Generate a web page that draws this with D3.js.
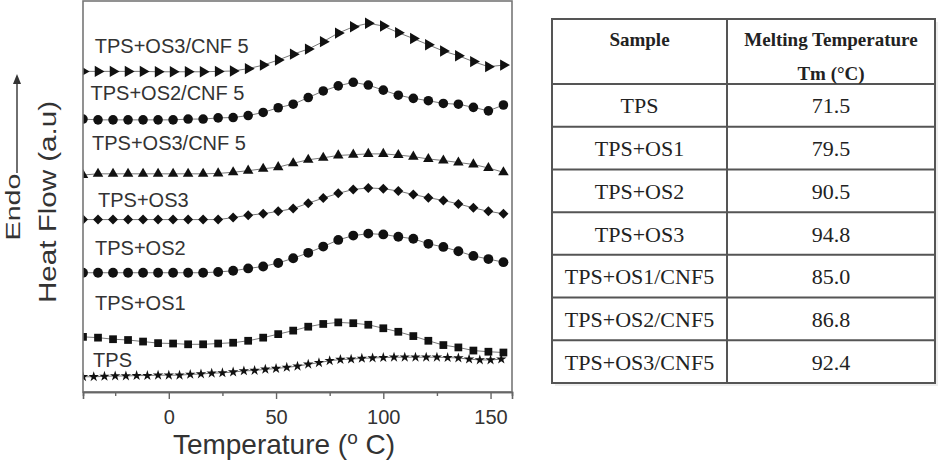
<!DOCTYPE html>
<html>
<head>
<meta charset="utf-8">
<script src="https://cdn.jsdelivr.net/npm/d3@7"></script>
<style>
  body { margin: 0; background: #fff; }
  svg { display: block; }
</style>
</head>
<body>
<svg id="chart" width="946" height="460"></svg>
<script>
const temps = [-40, -33, -26, -19, -12, -5, 2, 9, 16, 23, 30, 37, 44, 51, 58, 65, 72, 79, 86, 93, 100, 107, 114, 121, 128, 135, 142, 149, 156];
const tempsTPS = [-40, -35, -30, -25, -20, -15, -10, -5, 0, 5, 10, 15, 20, 25, 30, 35, 40, 45, 50, 55, 60, 65, 70, 75, 80, 85, 90, 95, 100, 105, 110, 115, 120, 125, 130, 135, 140, 145, 150, 155];

const hfTPS = [3.9, 3.9, 4.0, 4.1, 4.1, 4.2, 4.2, 4.3, 4.3, 4.3, 4.5, 4.6, 4.8, 4.9, 5.1, 5.4, 5.5, 5.8, 6.0, 6.3,
  6.6, 7.1, 7.5, 8.0, 8.3, 8.4, 8.6, 8.7, 8.8, 8.9, 8.9, 8.9, 8.9, 8.9, 8.8, 8.7, 8.4, 8.2, 8.2, 8.4];
const hfOS1 = [14.1, 13.9, 13.5, 13.3, 12.9, 12.5, 12.4, 12.2, 12.2, 12.4, 12.6, 13.1, 13.9, 14.8, 15.7,
  16.7, 17.4, 17.8, 17.6, 17.2, 16.3, 15.4, 14.3, 13.1, 12.0, 11.4, 10.6, 10.3, 10.1];
const hfOS2 = [30.5, 30.5, 30.5, 30.5, 30.5, 30.5, 30.5, 30.5, 30.5, 30.7, 31.0, 31.6, 32.1, 33.0, 34.2,
  35.6, 37.2, 38.9, 40.0, 40.5, 40.3, 39.7, 39.2, 37.9, 37.1, 36.0, 34.8, 34.0, 33.2];
const hfOS3 = [44.1, 44.1, 44.1, 44.1, 44.1, 44.1, 44.1, 44.1, 44.1, 44.1, 44.6, 45.2, 45.6, 46.2, 46.9,
  48.3, 49.6, 50.8, 51.8, 52.2, 52.0, 51.4, 50.5, 49.7, 49.0, 48.1, 47.1, 46.2, 45.6];
const hfOS1CNF5 = [55.5, 55.8, 55.8, 55.8, 55.8, 55.8, 55.8, 55.8, 55.8, 55.9, 56.2, 56.6, 57.1, 57.5, 58.5,
  59.4, 59.9, 60.5, 60.7, 60.9, 60.9, 60.6, 60.2, 59.6, 59.2, 58.7, 58.2, 57.3, 56.2];
const hfOS2CNF5 = [69.8, 69.6, 69.6, 69.6, 69.6, 69.6, 69.6, 69.8, 69.8, 70.1, 70.2, 70.7, 71.5, 72.7, 73.6,
  75.3, 77.0, 78.3, 79.2, 78.5, 77.2, 75.9, 75.1, 74.5, 73.8, 73.6, 72.8, 71.9, 73.4];
const hfOS3CNF5 = [82.0, 82.0, 82.0, 82.0, 82.0, 81.9, 81.9, 81.9, 81.9, 82.0, 82.1, 82.7, 83.6, 84.9, 86.4,
  87.7, 89.6, 91.8, 93.4, 94.3, 93.6, 91.9, 90.4, 88.8, 87.2, 86.0, 84.5, 83.2, 83.6];

const curveNames = ["TPS+OS3/CNF 5", "TPS+OS2/CNF 5", "TPS+OS3/CNF 5", "TPS+OS3", "TPS+OS2", "TPS+OS1", "TPS"];
const xTicks = [0, 50, 100, 150];
const xMinorTicks = [-25, 25, 75, 125];

// Tabla de temperaturas de fusión
const tableSamples = ["TPS", "TPS+OS1", "TPS+OS2", "TPS+OS3", "TPS+OS1/CNF5", "TPS+OS2/CNF5", "TPS+OS3/CNF5"];
const tableTm = ["71.5", "79.5", "90.5", "94.8", "85.0", "86.8", "92.4"];

const svg = d3.select("#chart");
const sans = "'Liberation Sans', Arial, sans-serif";
const serif = "'Liberation Serif', 'Times New Roman', serif";

const plot = { left: 83, right: 512, top: 1, bottom: 392 };

const x = d3.scaleLinear().domain([-40, 160]).range([plot.left, plot.right]);
const y = d3.scaleLinear().domain([0, 100]).range([plot.bottom, plot.top]);

// --- 1. Curvas ---
const series = [
  { name: curveNames[0], xs: temps, ys: hfOS3CNF5, symbol: d3.symbolTriangle, size: 56, rotate: 90, labelAt: [-34.5, 86.6] },
  { name: curveNames[1], xs: temps, ys: hfOS2CNF5, symbol: d3.symbolCircle, size: 72, rotate: 0, labelAt: [-36.5, 74.6] },
  { name: curveNames[2], xs: temps, ys: hfOS1CNF5, symbol: d3.symbolTriangle, size: 48, rotate: 0, labelAt: [-35.8, 61.8] },
  { name: curveNames[3], xs: temps, ys: hfOS3, symbol: d3.symbolSquare, size: 50, rotate: 45, labelAt: [-33, 47.3] },
  { name: curveNames[4], xs: temps, ys: hfOS2, symbol: d3.symbolCircle, size: 76, rotate: 0, labelAt: [-34.4, 35.1] },
  { name: curveNames[5], xs: temps, ys: hfOS1, symbol: d3.symbolSquare, size: 60, rotate: 0, labelAt: [-34.4, 21.0] },
  { name: curveNames[6], xs: tempsTPS, ys: hfTPS, symbol: d3.symbolStar, size: 34, rotate: 0, labelAt: [-35.3, 6.5] }
];

svg.append("clipPath").attr("id", "plotClip")
  .append("rect")
  .attr("x", plot.left).attr("y", plot.top)
  .attr("width", plot.right - plot.left).attr("height", plot.bottom - plot.top);

const curves = svg.append("g").attr("clip-path", "url(#plotClip)");
const line = d3.line().x(d => x(d[0])).y(d => y(d[1]));

series.forEach(s => {
  const pts = d3.zip(s.xs, s.ys);
  const g = curves.append("g");
  g.append("path")
    .datum(pts)
    .attr("d", line)
    .attr("fill", "none")
    .attr("stroke", "#555")
    .attr("stroke-width", 0.8);
  g.selectAll("path.mk")
    .data(pts)
    .join("path")
    .attr("class", "mk")
    .attr("d", d3.symbol(s.symbol, s.size))
    .attr("transform", d => `translate(${x(d[0])},${y(d[1])}) rotate(${s.rotate})`)
    .attr("fill", "#111");
});

// Etiquetas de las curvas
svg.append("g").selectAll("text")
  .data(series)
  .join("text")
  .attr("x", d => x(d.labelAt[0]))
  .attr("y", d => y(d.labelAt[1]))
  .style("font-family", sans)
  .style("font-size", "20px")
  .attr("fill", "#333")
  .text(d => d.name);

// --- 2. Marco y eje X ---
svg.append("rect")
  .attr("x", plot.left).attr("y", plot.top)
  .attr("width", plot.right - plot.left).attr("height", plot.bottom - plot.top)
  .attr("fill", "none")
  .attr("stroke", "#777")
  .attr("stroke-width", 1.6);

const xAxis = svg.append("g")
  .attr("transform", `translate(0,${plot.bottom})`)
  .call(d3.axisBottom(x).tickValues(xTicks).tickSize(7).tickPadding(11));
const xMinor = svg.append("g")
  .attr("transform", `translate(0,${plot.bottom})`)
  .call(d3.axisBottom(x).tickValues(xMinorTicks).tickSize(4).tickFormat(""));

[xAxis, xMinor].forEach(a => {
  a.select(".domain").attr("stroke", "#666").attr("stroke-width", 1.6);
  a.selectAll(".tick line").attr("stroke", "#666").attr("stroke-width", 1.4);
});
xAxis.selectAll(".tick text")
  .style("font-family", sans)
  .style("font-size", "20px")
  .attr("fill", "#333");

const xTitle = svg.append("text")
  .attr("x", 284)
  .attr("y", 454)
  .attr("text-anchor", "middle")
  .style("font-family", sans)
  .style("font-size", "28px")
  .attr("fill", "#333");
xTitle.append("tspan").text("Temperature (");
xTitle.append("tspan").attr("dy", -10).style("font-size", "19px").text("o");
xTitle.append("tspan").attr("dy", 10).text(" C)");

// --- 3. Eje Y: rótulo y flecha endotérmica ---
svg.append("text")
  .attr("transform", "translate(56,202) rotate(-90)")
  .attr("text-anchor", "middle")
  .attr("textLength", 202)
  .attr("lengthAdjust", "spacingAndGlyphs")
  .style("font-family", sans)
  .style("font-size", "23px")
  .attr("fill", "#333")
  .text("Heat Flow (a.u)");

svg.append("text")
  .attr("transform", "translate(20,207) rotate(-90)")
  .attr("text-anchor", "middle")
  .attr("textLength", 67)
  .attr("lengthAdjust", "spacingAndGlyphs")
  .style("font-family", sans)
  .style("font-size", "21px")
  .attr("fill", "#333")
  .text("Endo");

svg.append("line")
  .attr("x1", 17).attr("x2", 17)
  .attr("y1", 173).attr("y2", 82)
  .attr("stroke", "#333")
  .attr("stroke-width", 1.4);
svg.append("path")
  .attr("d", "M17,74 L13,84 L21,84 Z")
  .attr("fill", "#333");

// --- 4. Tabla ---
const tbl = { left: 552, right: 935, top: 19, headBottom: 84, bottom: 383, split: 727 };
const rowScale = d3.scaleBand().domain(tableSamples).range([tbl.headBottom, tbl.bottom]);
const colSample = (tbl.left + tbl.split) / 2;
const colTm = (tbl.split + tbl.right) / 2;

const tg = svg.append("g");

tg.append("rect")
  .attr("x", tbl.left + 3).attr("y", tbl.top + 3)
  .attr("width", tbl.right - tbl.left).attr("height", tbl.bottom - tbl.top)
  .attr("fill", "#eee");
tg.append("rect")
  .attr("x", tbl.left).attr("y", tbl.top)
  .attr("width", tbl.right - tbl.left).attr("height", tbl.bottom - tbl.top)
  .attr("fill", "#fff")
  .attr("stroke", "#555")
  .attr("stroke-width", 2);

tg.selectAll("line.row")
  .data(tableSamples)
  .join("line")
  .attr("class", "row")
  .attr("x1", tbl.left).attr("x2", tbl.right)
  .attr("y1", d => rowScale(d)).attr("y2", d => rowScale(d))
  .attr("stroke", "#555")
  .attr("stroke-width", 2);

tg.append("line")
  .attr("x1", tbl.split).attr("x2", tbl.split)
  .attr("y1", tbl.top).attr("y2", tbl.bottom)
  .attr("stroke", "#555")
  .attr("stroke-width", 2);

const headStyle = t => t
  .attr("text-anchor", "middle")
  .style("font-family", serif)
  .style("font-weight", "bold")
  .style("font-size", "19px")
  .attr("fill", "#222");

tg.append("text").attr("x", colSample).attr("y", 46).call(headStyle).text("Sample");
tg.append("text").attr("x", colTm).attr("y", 46).call(headStyle).text("Melting Temperature");
tg.append("text").attr("x", colTm).attr("y", 80).call(headStyle).text("Tm (°C)");

tg.selectAll("text.sample")
  .data(tableSamples)
  .join("text")
  .attr("class", "sample")
  .attr("x", colSample)
  .attr("y", d => rowScale(d) + rowScale.bandwidth() / 2 + 8)
  .attr("text-anchor", "middle")
  .style("font-family", serif)
  .style("font-size", "22px")
  .attr("fill", "#222")
  .text(d => d);

tg.selectAll("text.tm")
  .data(tableTm)
  .join("text")
  .attr("class", "tm")
  .attr("x", colTm)
  .attr("y", (d, i) => rowScale(tableSamples[i]) + rowScale.bandwidth() / 2 + 8)
  .attr("text-anchor", "middle")
  .style("font-family", serif)
  .style("font-size", "22px")
  .attr("fill", "#222")
  .text(d => d);
</script>
</body>
</html>
